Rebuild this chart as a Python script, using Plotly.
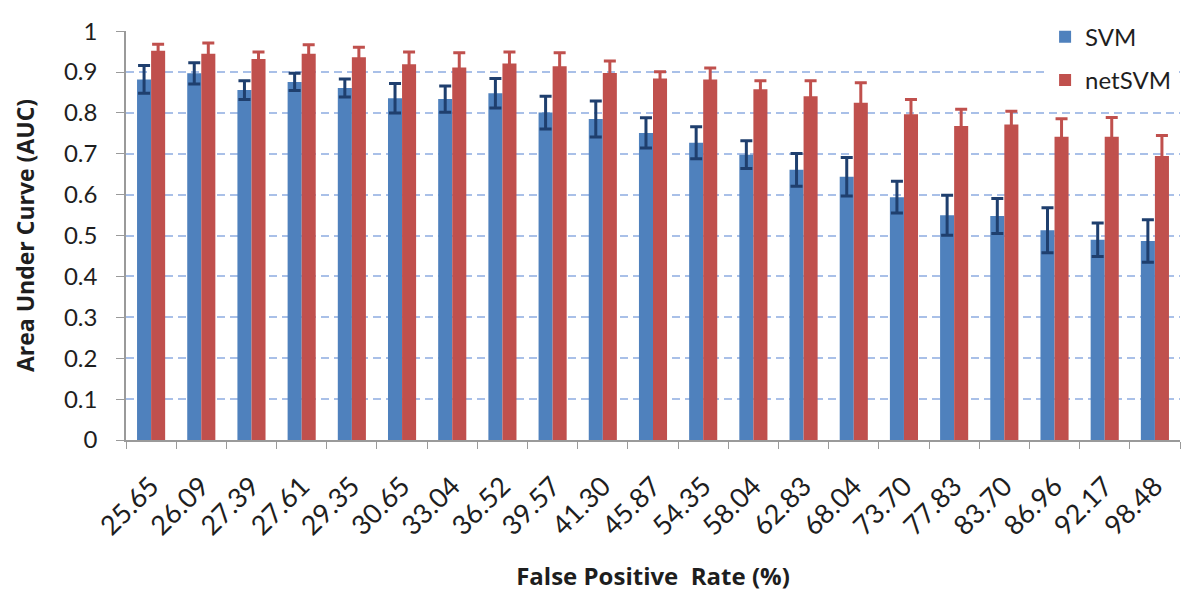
import plotly.graph_objects as go

categories = ["25.65", "26.09", "27.39", "27.61", "29.35", "30.65", "33.04", "36.52", "39.57", "41.30",
              "45.87", "54.35", "58.04", "62.83", "68.04", "73.70", "77.83", "83.70", "86.96", "92.17", "98.48"]
svm = [0.882, 0.897, 0.856, 0.876, 0.861, 0.836, 0.834, 0.848, 0.801, 0.785,
       0.751, 0.727, 0.698, 0.661, 0.644, 0.594, 0.550, 0.548, 0.513, 0.490, 0.487]
svm_err = [0.034, 0.026, 0.023, 0.021, 0.022, 0.036, 0.032, 0.036, 0.040, 0.044,
           0.037, 0.039, 0.034, 0.040, 0.047, 0.039, 0.049, 0.043, 0.055, 0.041, 0.052]
netsvm = [0.952, 0.945, 0.932, 0.945, 0.936, 0.919, 0.911, 0.921, 0.914, 0.898,
          0.884, 0.882, 0.858, 0.841, 0.825, 0.797, 0.768, 0.772, 0.742, 0.742, 0.695]
netsvm_err = [0.016, 0.026, 0.017, 0.022, 0.025, 0.030, 0.036, 0.028, 0.033, 0.029,
              0.017, 0.028, 0.021, 0.038, 0.049, 0.036, 0.041, 0.032, 0.044, 0.047, 0.050]
y_ticks = [0, 0.1, 0.2, 0.3, 0.4, 0.5, 0.6, 0.7, 0.8, 0.9, 1]
y_tick_text = ["0", "0.1", "0.2", "0.3", "0.4", "0.5", "0.6", "0.7", "0.8", "0.9", "1"]

FONT = "Lato, 'Open Sans', sans-serif"
TITLE_FONT = "'Open Sans', Lato, sans-serif"
TXT = "#1e1e1e"
AXC = "#9a9a9a"

fig = go.Figure()
fig.add_trace(go.Bar(
    x=categories, y=svm, name="SVM", legendgroup="a",
    marker=dict(color="#4f81bd", line=dict(width=0)),
    error_y=dict(type="data", array=svm_err, visible=True, color="#1f3f6e", thickness=3, width=6),
))
fig.add_trace(go.Bar(
    x=categories, y=netsvm, name="netSVM", legendgroup="b",
    marker=dict(color="#c0504d", line=dict(width=0)),
    error_y=dict(type="data", array=netsvm_err, visible=True, color="#c0504d", thickness=3, width=6),
))

fig.update_layout(
    width=1200, height=606,
    paper_bgcolor="white", plot_bgcolor="white",
    margin=dict(l=118, r=28, t=23, b=174, autoexpand=False),
    barmode="group", bargap=0.44, bargroupgap=0,
    font=dict(family=FONT, color=TXT),
    legend=dict(
        x=0.872, y=1.04, xanchor="left", yanchor="top",
        font=dict(size=24, color=TXT),
        bgcolor="white", traceorder="grouped", tracegroupgap=9,
        itemwidth=30,
    ),
    xaxis=dict(
        type="category", tickangle=-45,
        tickfont=dict(size=27, color=TXT),
        ticks="outside", tickson="boundaries", ticklen=7, tickcolor=AXC,
        ticklabelstandoff=18,
        showline=True, linecolor=AXC, linewidth=1.5,
        showgrid=False,
        title=dict(text="<b>False Positive  Rate (%)</b>", font=dict(family=TITLE_FONT, size=24, color=TXT), standoff=28),
    ),
    yaxis=dict(
        range=[0, 1.0005], tickvals=y_ticks, ticktext=y_tick_text,
        tickfont=dict(size=24, color=TXT),
        ticks="outside", ticklen=8, tickcolor=AXC,
        ticklabelstandoff=14,
        showline=True, linecolor=AXC, linewidth=1.5,
        showgrid=True, gridcolor="#a9c0e8", griddash="8px,5px", gridwidth=2,
        zeroline=False,
        title=dict(text="<b>Area Under Curve (AUC)</b>", font=dict(family=TITLE_FONT, size=23, color=TXT), standoff=23),
    ),
)

fig.write_html("out.html")
